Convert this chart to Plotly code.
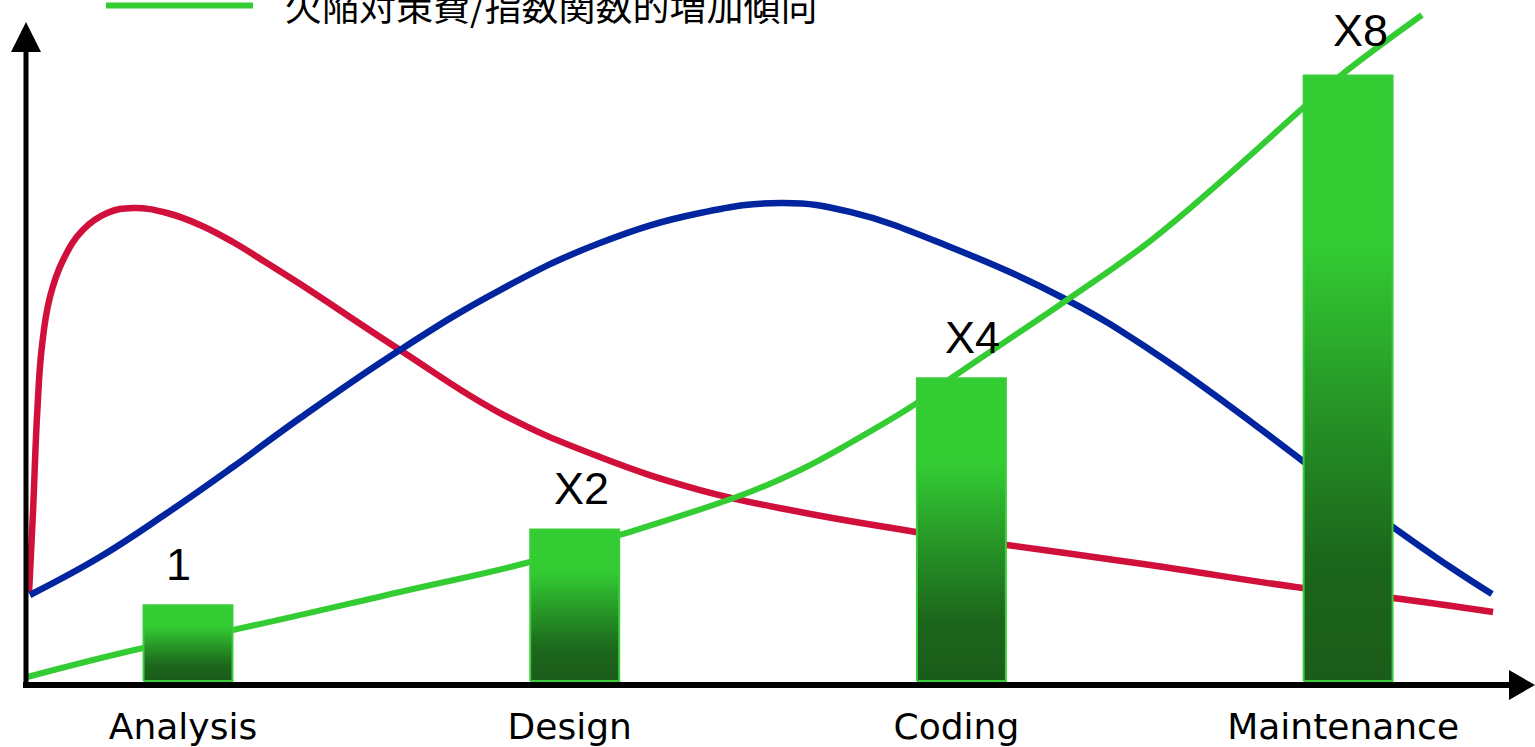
import plotly.graph_objects as go

# ---------------- data ----------------
categories = ["Analysis", "Design", "Coding", "Maintenance"]
cost_factor = [1, 2, 4, 8]
bar_labels = ["1", "X2", "X4", "X8"]
legend_text = "欠陥対策費/指数関数的増加傾向"

# red curve (x in category units, y in cost units)
red_x = [-0.411, -0.401, -0.390, -0.378, -0.357, -0.323, -0.272, -0.209, -0.142, -0.054,
         0.031, 0.116, 0.204, 0.290, 0.548, 0.807, 1.065, 1.324, 1.583, 1.885,
         2.118, 2.488, 2.883, 3.116, 3.375]
red_y = [1.176, 2.219, 3.540, 4.412, 5.073, 5.561, 5.958, 6.182, 6.248, 6.182,
         6.024, 5.799, 5.522, 5.244, 4.373, 3.540, 2.959, 2.523, 2.232, 1.968,
         1.797, 1.532, 1.229, 1.096, 0.911]

# blue curve
blue_x = [-0.409, -0.228, -0.054, 0.116, 0.290, 0.548, 0.807, 1.065, 1.324, 1.539,
          1.712, 1.971, 2.273, 2.488, 2.687, 2.883, 3.116, 3.264, 3.372]
blue_y = [1.136, 1.638, 2.219, 2.827, 3.474, 4.373, 5.165, 5.786, 6.182, 6.314,
          6.196, 5.733, 5.033, 4.373, 3.659, 2.906, 2.034, 1.506, 1.149]

# green curve
green_x = [-0.416, -0.116, 0.116, 0.548, 0.884, 1.117, 1.453, 1.583, 1.712, 1.885,
           1.978, 2.273, 2.488, 2.687, 2.883, 2.979, 3.191]
green_y = [0.053, 0.436, 0.674, 1.176, 1.572, 1.929, 2.497, 2.787, 3.144, 3.672,
           4.016, 5.033, 5.812, 6.671, 7.569, 7.992, 8.798]

# ---------------- styles / layout ----------------
W, H = 1535, 747
PLOT_BOTTOM = 685
X_RANGE = [-0.4862, 3.4833]
Y_RANGE = [-0.0528, 8.996]
BAR_HALF = 0.115
label_dx = [-10, 7, 11, 12]
label_dy = [41, 41, 41, 45]

RED = "#D0103A"
BLUE = "#00259E"
GREEN = "#33CC33"


def px(xp):
    return xp / W


def py(yp):
    return (PLOT_BOTTOM - yp) / PLOT_BOTTOM


fig = go.Figure()

fig.add_trace(go.Scatter(x=red_x, y=red_y, mode="lines",
                         line=dict(color=RED, width=6.5, shape="spline", smoothing=1.2),
                         hoverinfo="skip", showlegend=False))
fig.add_trace(go.Scatter(x=blue_x, y=blue_y, mode="lines",
                         line=dict(color=BLUE, width=6.5, shape="spline", smoothing=1.2),
                         hoverinfo="skip", showlegend=False))
fig.add_trace(go.Scatter(x=green_x, y=green_y, mode="lines",
                         line=dict(color=GREEN, width=6, shape="spline", smoothing=1.2),
                         hoverinfo="skip", showlegend=False))

grad = [[0.0, "#1a5c1a"], [0.2, "#1c661c"], [0.45, "#269426"],
        [0.72, "#33CC33"], [1.0, "#33CC33"]]

for i, v in enumerate(cost_factor):
    xs = [i - BAR_HALF, i + BAR_HALF, i + BAR_HALF, i - BAR_HALF, i - BAR_HALF]
    ys = [0, 0, v, v, 0]
    fig.add_trace(go.Scatter(x=xs, y=ys, mode="lines", fill="toself",
                             fillgradient=dict(type="vertical", colorscale=grad),
                             line=dict(color="#3ACC3A", width=2),
                             hoverinfo="skip", showlegend=False))

annotations = []
for i, (v, t) in enumerate(zip(cost_factor, bar_labels)):
    annotations.append(dict(x=i, y=v, xref="x", yref="y", text=t, showarrow=False,
                            xanchor="center", yanchor="middle",
                            xshift=label_dx[i], yshift=label_dy[i],
                            font=dict(family="Liberation Sans Narrow, Liberation Sans, sans-serif",
                                      size=45, color="black")))

annotations.append(dict(x=px(283), y=py(5), xref="paper", yref="paper", text=legend_text,
                        showarrow=False, xanchor="left", yanchor="middle",
                        font=dict(family="Noto Sans CJK JP", size=37, color="black")))

shapes = [
    # legend line
    dict(type="line", xref="paper", yref="paper", x0=px(106), x1=px(253), y0=py(5.5), y1=py(5.5),
         line=dict(color=GREEN, width=6)),
    # y axis
    dict(type="line", xref="paper", yref="paper", x0=px(26), x1=px(26), y0=py(688), y1=py(48),
         line=dict(color="black", width=5)),
    dict(type="path", xref="paper", yref="paper",
         path=f"M {px(26)},{py(22)} L {px(11)},{py(52)} L {px(41)},{py(52)} Z",
         fillcolor="black", line=dict(color="black", width=0)),
    # x axis
    dict(type="line", xref="paper", yref="paper", x0=px(23), x1=px(1512), y0=py(685), y1=py(685),
         line=dict(color="black", width=6)),
    dict(type="path", xref="paper", yref="paper",
         path=f"M {px(1535)},{py(685)} L {px(1509)},{py(670)} L {px(1509)},{py(700)} Z",
         fillcolor="black", line=dict(color="black", width=0)),
]

fig.update_layout(
    width=W, height=H,
    margin=dict(l=0, r=0, t=0, b=H - PLOT_BOTTOM, pad=0),
    paper_bgcolor="white", plot_bgcolor="white",
    showlegend=False,
    xaxis=dict(range=X_RANGE, tickmode="array", tickvals=list(range(len(categories))),
               ticktext=categories, showgrid=False, zeroline=False, showline=False,
               ticks="", ticklabelstandoff=17, ticklabelshift=-5,
               tickfont=dict(family="DejaVu Sans", size=36, color="black"), fixedrange=True),
    yaxis=dict(range=Y_RANGE, visible=False, fixedrange=True),
    annotations=annotations,
    shapes=shapes,
)

fig.write_html("out.html", config={"displayModeBar": False})
